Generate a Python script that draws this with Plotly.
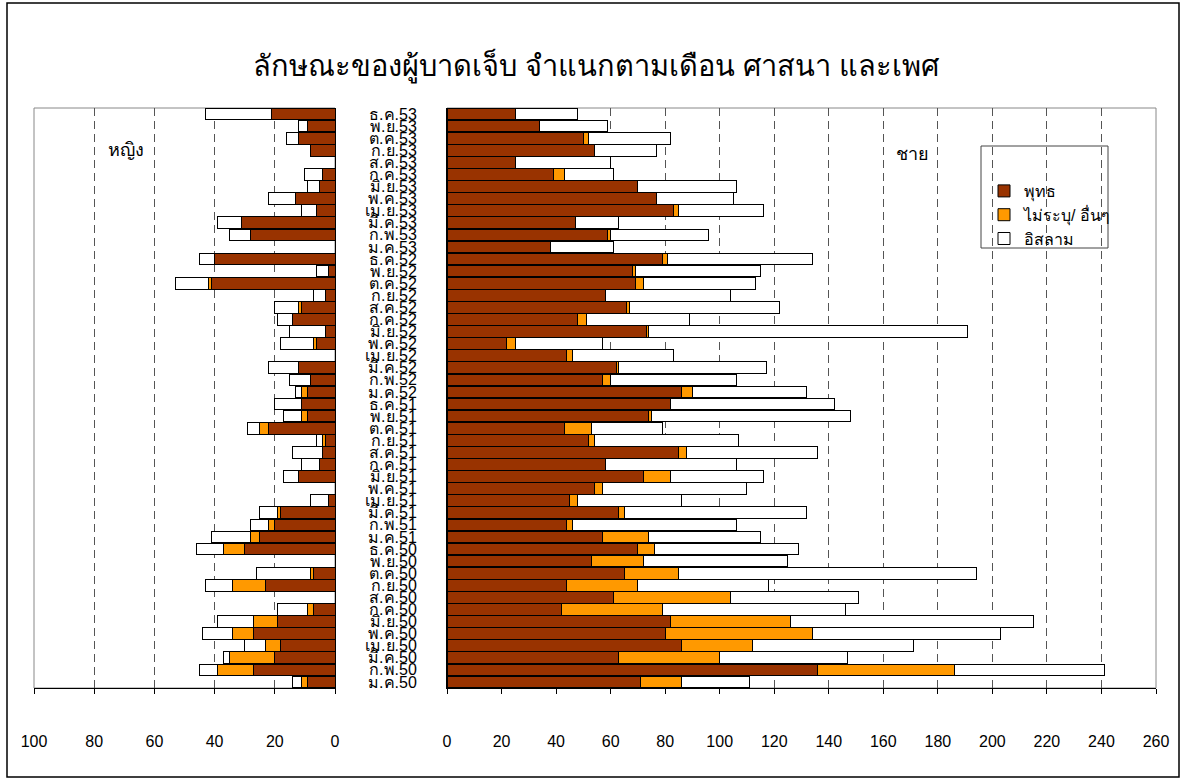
import plotly.graph_objects as go

# categories, bottom (ม.ค.50) to top (ธ.ค.53)
months = [
    "ม.ค.50", "ก.พ.50", "มี.ค.50", "เม.ย.50", "พ.ค.50", "มิ.ย.50", "ก.ค.50", "ส.ค.50", "ก.ย.50", "ต.ค.50", "พ.ย.50", "ธ.ค.50",
    "ม.ค.51", "ก.พ.51", "มี.ค.51", "เม.ย.51", "พ.ค.51", "มิ.ย.51", "ก.ค.51", "ส.ค.51", "ก.ย.51", "ต.ค.51", "พ.ย.51", "ธ.ค.51",
    "ม.ค.52", "ก.พ.52", "มี.ค.52", "เม.ย.52", "พ.ค.52", "มิ.ย.52", "ก.ค.52", "ส.ค.52", "ก.ย.52", "ต.ค.52", "พ.ย.52", "ธ.ค.52",
    "ม.ค.53", "ก.พ.53", "มี.ค.53", "เม.ย.53", "พ.ค.53", "มิ.ย.53", "ก.ค.53", "ส.ค.53", "ก.ย.53", "ต.ค.53", "พ.ย.53", "ธ.ค.53",
]

# male (ชาย)
male_buddhist = [71, 136, 63, 86, 80, 82, 42, 61, 44, 65, 53, 70,
                 57, 44, 63, 45, 54, 72, 58, 85, 52, 43, 74, 82,
                 86, 57, 62, 44, 22, 73, 48, 66, 58, 69, 68, 79,
                 38, 59, 47, 83, 77, 70, 39, 25, 54, 50, 34, 25]
male_other = [15, 50, 37, 26, 54, 44, 37, 43, 26, 20, 19, 6,
              17, 2, 2, 3, 3, 10, 0, 3, 2, 10, 1, 0,
              4, 3, 1, 2, 3, 1, 3, 1, 0, 3, 1, 2,
              0, 1, 0, 2, 0, 0, 4, 0, 0, 2, 0, 0]
male_islam = [25, 55, 47, 59, 69, 89, 67, 47, 48, 109, 53, 53,
              41, 60, 67, 38, 53, 34, 48, 48, 53, 26, 73, 60,
              42, 46, 54, 37, 32, 117, 38, 55, 46, 41, 46, 53,
              23, 36, 16, 31, 28, 36, 18, 35, 23, 30, 25, 23]

# female (หญิง)
female_buddhist = [9, 27, 20, 18, 27, 19, 7, 0, 23, 7, 0, 30,
                   25, 20, 18, 2, 0, 12, 5, 4, 3, 22, 9, 11,
                   9, 8, 12, 0, 6, 3, 14, 11, 3, 41, 2, 40,
                   0, 28, 31, 6, 13, 5, 4, 0, 8, 12, 9, 21]
female_other = [2, 12, 15, 5, 7, 8, 2, 0, 11, 1, 0, 7,
                3, 2, 1, 0, 0, 0, 0, 0, 1, 3, 2, 0,
                2, 0, 0, 0, 1, 0, 0, 1, 0, 1, 0, 0,
                0, 0, 0, 0, 0, 0, 0, 0, 0, 0, 0, 0]
female_islam = [3, 6, 2, 7, 10, 12, 10, 0, 9, 18, 0, 9,
                13, 6, 6, 6, 0, 5, 6, 10, 2, 4, 6, 9,
                2, 7, 10, 0, 11, 12, 5, 8, 4, 11, 4, 5,
                0, 7, 8, 5, 9, 4, 6, 0, 0, 4, 3, 22]

series_names = ["พุทธ", "ไม่ระบุ/ อื่นๆ", "อิสลาม"]
series_colors = ["#993300", "#FF9900", "#FFFFFF"]
left_ticks = [0, 20, 40, 60, 80, 100]
right_ticks = [0, 20, 40, 60, 80, 100, 120, 140, 160, 180, 200, 220, 240, 260]

title_text = "ลักษณะของผู้บาดเจ็บ จำแนกตามเดือน ศาสนา และเพศ"
female_label = "หญิง"
male_label = "ชาย"

W, H = 1183, 780
def fx(p):
    return p / W
def fy(p):
    return 1 - p / H

L0, L1 = 34, 335      # left panel pixel extent (100 -> 0)
R0, R1 = 447, 1156    # right panel pixel extent (0 -> 260)
T, B = 108, 688       # plot area top/bottom

def nz(v):
    return [x if x else None for x in v]

fig = go.Figure()
female = [female_buddhist, female_other, female_islam]
male = [male_buddhist, male_other, male_islam]
for name, color, fv, mv in zip(series_names, series_colors, female, male):
    fig.add_trace(go.Bar(
        y=months, x=nz(fv), orientation="h", name=name,
        marker=dict(color=color, line=dict(color="black", width=1)),
        xaxis="x", yaxis="y", showlegend=False, legendgroup=name,
    ))
    fig.add_trace(go.Bar(
        y=months, x=nz(mv), orientation="h", name=name,
        marker=dict(color=color, line=dict(color="black", width=1)),
        xaxis="x2", yaxis="y2", showlegend=True, legendgroup=name,
    ))

tickfont = dict(family="Liberation Sans, Arial, sans-serif", size=16, color="black")
grid = dict(showgrid=True, gridcolor="#555555", gridwidth=1, griddash="8px,5px")

fig.update_layout(
    template="none",
    width=W, height=H,
    margin=dict(l=0, r=0, t=0, b=0, pad=0, autoexpand=False),
    paper_bgcolor="white", plot_bgcolor="rgba(0,0,0,0)",
    barmode="stack", bargap=0.03,
    font=dict(family="Liberation Sans, Arial, sans-serif", size=16, color="black"),
    showlegend=True,
    legend=dict(
        x=fx(984), y=fy(174), xanchor="left", yanchor="top",
        bgcolor="rgba(0,0,0,0)", borderwidth=0,
        font=dict(size=16), traceorder="normal",
        tracegroupgap=0,
    ),
    xaxis=dict(
        domain=[fx(L0), fx(L1)], range=[100, 0], anchor="y", automargin=False,
        tickmode="array", tickvals=left_ticks, ticks="outside", ticklen=5,
        tickcolor="black", showline=True, linecolor="black", linewidth=1,
        tickfont=tickfont, ticklabelstandoff=34, zeroline=False, **grid,
    ),
    yaxis=dict(
        domain=[fy(B), fy(T)], type="category", categoryorder="array",
        categoryarray=months, range=[-0.5, len(months) - 0.5], side="right",
        showticklabels=False, ticks="", showline=True, linecolor="black",
        linewidth=1, showgrid=False, anchor="x", zeroline=False, automargin=False,
    ),
    xaxis2=dict(
        domain=[fx(R0), fx(R1)], range=[0, 260], anchor="y2", automargin=False,
        tickmode="array", tickvals=right_ticks, ticks="outside", ticklen=5,
        tickcolor="black", showline=True, linecolor="black", linewidth=1,
        tickfont=tickfont, ticklabelstandoff=34, zeroline=False, **grid,
    ),
    yaxis2=dict(
        domain=[fy(B), fy(T)], type="category", categoryorder="array",
        categoryarray=months, range=[-0.5, len(months) - 0.5], side="left",
        tickmode="array", tickvals=months, ticktext=months, automargin=False,
        ticks="", showline=True, linecolor="black", linewidth=1,
        showgrid=False, anchor="x2", zeroline=False,
        tickfont=dict(size=16, color="black"), ticklabelstandoff=26,
    ),
    shapes=[
        dict(type="rect", xref="paper", yref="paper", x0=fx(7), x1=fx(1179),
             y0=fy(777), y1=fy(3), line=dict(color="black", width=1.5), layer="below"),
        dict(type="rect", xref="paper", yref="paper", x0=fx(L0), x1=fx(L1),
             y0=fy(B), y1=fy(T), line=dict(color="#888888", width=1), layer="below"),
        dict(type="rect", xref="paper", yref="paper", x0=fx(R0), x1=fx(R1),
             y0=fy(B), y1=fy(T), line=dict(color="#888888", width=1), layer="below"),
        dict(type="rect", xref="paper", yref="paper", x0=fx(981), x1=fx(1108),
             y0=fy(248), y1=fy(146), line=dict(color="#444444", width=1),
             fillcolor="white", layer="below"),
    ],
    annotations=[
        dict(text=title_text, xref="paper", yref="paper", x=fx(596), y=fy(66),
             showarrow=False, font=dict(size=29, color="black"), xanchor="center", yanchor="middle"),
        dict(text=female_label, xref="paper", yref="paper", x=fx(126), y=fy(150),
             showarrow=False, font=dict(size=18, color="black"), xanchor="center", yanchor="middle"),
        dict(text=male_label, xref="paper", yref="paper", x=fx(912), y=fy(154),
             showarrow=False, font=dict(size=18, color="black"), xanchor="center", yanchor="middle"),
    ],
)

fig.write_html("out.html", config={"displayModeBar": False},
               post_script="document.body.style.margin='0';")
